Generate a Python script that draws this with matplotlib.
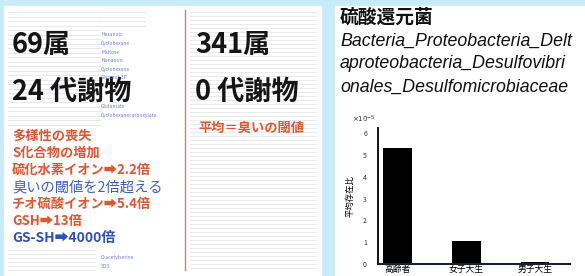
import numpy as np
import matplotlib.pyplot as plt
from matplotlib.patches import Rectangle

plt.rcParams['font.family'] = ['Noto Sans CJK JP', 'DejaVu Sans']

# Données du graphique en barres
groupes = ['高齢者', '女子大生', '男子大生']
abondance = [5.35, 1.05, 0.1]   # x10^-5
yticks = [0, 1, 2, 3, 4, 5, 6]

# Textes du panneau gauche
titre_gauche = ['69属', '24 代謝物']
titre_droite = ['341属', '0 代謝物']
lignes = ['多様性の喪失', 'S化合物の増加', '硫化水素イオン➡2.2倍', '臭いの閾値を2倍超える',
          'チオ硫酸イオン➡5.4倍', 'GSH➡13倍', 'GS-SH➡4000倍']
couleurs_lignes = ['#e2552e', '#e2552e', '#e2552e', '#3f5fc8', '#e2552e', '#e2552e', '#2f4fc0']
tailles_lignes = [9.5, 9.5, 9.5, 10.3, 9.5, 9.5, 10]
graisses_lignes = ['bold', 'bold', 'bold', 'normal', 'bold', 'bold', 'bold']
petits_labels = ['Hexanoic', 'Cyclohexane', 'Maltose', 'Nonanoic', 'Cyclohexene',
                 'Glycerol-3P', 'Glutamate', 'Cyclohexanecarboxylate']
petits_y = [34, 43, 52, 61, 69, 77, 107, 116]
bas_labels = ['O-acetylserine', 'SO3']
taxon = ['Bacteria_Proteobacteria_Delt', 'aproteobacteria_Desulfovibri',
         'onales_Desulfomicrobiaceae']

W, H = 585, 276
fig = plt.figure(figsize=(W / 100, H / 100), dpi=100)
fig.patch.set_facecolor('#c8ebf8')

# Calque de fond en pixels
bg = fig.add_axes([0, 0, 1, 1])
bg.set_xlim(0, W)
bg.set_ylim(H, 0)
bg.axis('off')
bg.add_patch(Rectangle((4, 6), 317, 272, color='white', zorder=0))
bg.add_patch(Rectangle((335, 6), 252, 272, color='white', zorder=0))

# texture de tableau estompée
for y in np.arange(12, 126, 4.5):
    bg.plot([8, 100], [y, y], color='#aab4c8', lw=0.6, alpha=0.35, zorder=1)
for y in np.arange(12, 30, 4.5):
    bg.plot([100, 145], [y, y], color='#aab4c8', lw=0.6, alpha=0.3, zorder=1)
for y in np.arange(12, 270, 4):
    bg.plot([190, 316], [y, y], color='#b0b4bc', lw=0.6, alpha=0.3, zorder=1)
for y in np.arange(250, 272, 4):
    bg.plot([8, 95], [y, y], color='#aab4c8', lw=0.6, alpha=0.35, zorder=1)
bg.plot([185, 185], [10, 270], color='#d08080', lw=1, zorder=2)

for t, y in zip(titre_gauche, [45, 92]):
    bg.text(12, y, t, fontsize=19.5, fontweight='bold', va='center', color='#151515')
for t, y in zip(titre_droite, [45, 92]):
    bg.text(195, y, t, fontsize=19.5, fontweight='bold', va='center', color='#151515')

for lab, y in zip(petits_labels, petits_y):
    bg.text(101, y, lab, fontsize=3.5, color='#4a5ad0', va='center', alpha=0.8)
for lab, y in zip(bas_labels, [258, 266]):
    bg.text(101, y, lab, fontsize=3.5, color='#4a5ad0', va='center', alpha=0.8)

for i, t in enumerate(lignes):
    bg.text(12, 136 + i * 17, t, fontsize=tailles_lignes[i], color=couleurs_lignes[i],
            fontweight=graisses_lignes[i], va='center')
bg.text(198, 128, '平均＝臭いの閾値', fontsize=9.5, color='#e2552e', fontweight='bold', va='center')

bg.text(340, 17, '硫酸還元菌', fontsize=13.5, fontweight='bold', va='center', color='#111111')
for i, t in enumerate(taxon):
    bg.text(340, 41 + i * 23, t, fontsize=12.8, style='italic', va='center',
            family='Liberation Sans', color='#111111')

# Graphique en barres
ax = fig.add_axes([378 / W, (H - 264) / H, 192 / W, 136 / H])
x = np.arange(len(groupes))
ax.bar(x, abondance, width=0.42, color='black')
ax.set_xlim(-0.29, 2.51)
ax.set_ylim(0, 6.25)
ax.set_yticks(yticks)
ax.set_yticklabels([str(v) for v in yticks], fontsize=5, color='#333333')
ax.set_xticks(x)
ax.set_xticklabels(groupes, fontsize=6.3)
ax.tick_params(length=0, pad=8)
ax.tick_params(axis='x', pad=1)
for s in ['top', 'right']:
    ax.spines[s].set_visible(False)
ax.spines['left'].set_linewidth(1.3)
ax.spines['bottom'].set_linewidth(1.5)
ax.spines['bottom'].set_color('#1a2030')
ax.set_ylabel('平均存在比', fontsize=6, labelpad=6)
bg.text(352, 119, r'$\times 10^{-5}$', fontsize=5, va='center', color='#333333')

fig.savefig('out.png', dpi=100)
